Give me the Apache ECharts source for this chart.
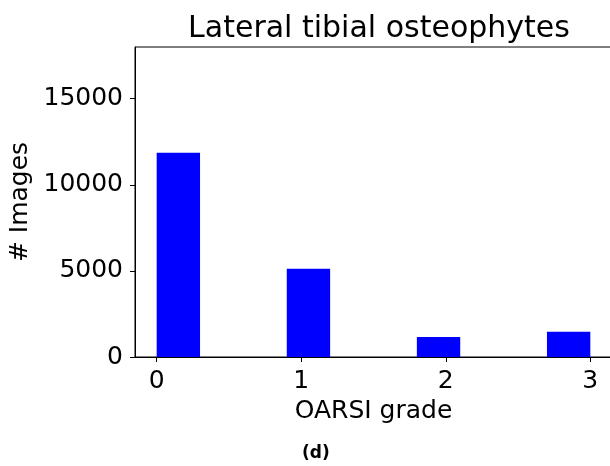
<!DOCTYPE html>
<html>
<head>
<meta charset="utf-8">
<script src="https://cdn.jsdelivr.net/npm/echarts@6/dist/echarts.min.js"></script>
<style>
  html, body { margin: 0; padding: 0; background: #fff; }
  #chart { width: 610px; height: 466px; }
</style>
</head>
<body>
<div id="chart"></div>
<script>
// histogram bins (left edge of each bin, OARSI grade) and counts
const binStarts = [0, 0.9, 1.8, 2.7]
const binWidth = 0.3
const counts = [11860, 5120, 1160, 1460]
const xTicks = [0, 1, 2, 3]
const yTicks = [0, 5000, 10000, 15000]

const font = 'DejaVu Sans'
const chart = echarts.init(document.getElementById('chart'))

const barData = binStarts.map((s, i) => [s, s + binWidth, counts[i]])

chart.setOption({
  animation: false,
  title: {
    text: 'Lateral tibial osteophytes',
    left: 374,
    textAlign: 'center',
    top: 9,
    textStyle: { fontFamily: font, fontSize: 30, fontWeight: 'normal', color: '#000' }
  },
  grid: {
    left: 135, right: -2, top: 47, bottom: 109,
    show: true, borderColor: '#000', borderWidth: 1,
    outerBoundsMode: 'none'
  },
  xAxis: {
    type: 'value',
    min: -0.15,
    max: 3.15,
    name: 'OARSI grade',
    nameLocation: 'middle',
    nameGap: 37,
    nameTextStyle: { fontFamily: font, fontSize: 25, color: '#000' },
    axisLine: { show: true, onZero: false, lineStyle: { color: '#000', width: 1 } },
    axisTick: { show: true, length: 5, customValues: xTicks, lineStyle: { color: '#000' } },
    axisLabel: { customValues: xTicks, margin: 12, fontFamily: font, fontSize: 25, color: '#000' },
    splitLine: { show: false }
  },
  yAxis: {
    type: 'value',
    min: 0,
    max: 18000,
    name: '# Images',
    nameLocation: 'middle',
    nameRotate: 90,
    nameGap: 86,
    nameTextStyle: { fontFamily: font, fontSize: 25, color: '#000' },
    axisLine: { show: true, onZero: false, lineStyle: { color: '#000', width: 1 } },
    axisTick: { show: true, length: 5, customValues: yTicks, lineStyle: { color: '#000' } },
    axisLabel: {
      customValues: yTicks, margin: 12, fontFamily: font, fontSize: 25, color: '#000',
      formatter: v => String(v)
    },
    splitLine: { show: false }
  },
  graphic: [{
    type: 'text',
    left: 302,
    top: 445,
    style: { text: '(d)', fontFamily: font, fontSize: 17, fontWeight: 'bold', fill: '#000' }
  }],
  series: [{
    type: 'custom',
    data: barData,
    encode: { x: [0, 1], y: 2 },
    renderItem: (params, api) => {
      const p0 = api.coord([api.value(0), api.value(2)])
      const p1 = api.coord([api.value(1), 0])
      return {
        type: 'rect',
        shape: { x: p0[0], y: p0[1], width: p1[0] - p0[0], height: p1[1] - p0[1] },
        style: { fill: '#0000ff' }
      }
    }
  }]
})
</script>
</body>
</html>
